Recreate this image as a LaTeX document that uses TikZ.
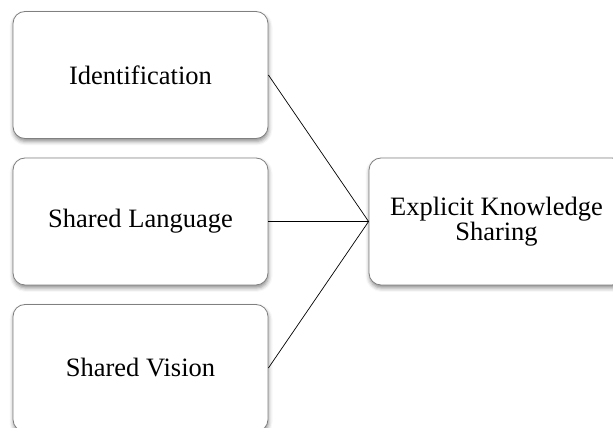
\documentclass[tikz,border=0pt]{standalone}
\usepackage{fontspec}
\setmainfont{Liberation Serif}
\usepackage{tikz}
\usetikzlibrary{positioning, shadows.blur}

\begin{document}
\begin{tikzpicture}[x=1pt, y=1pt,
        box/.style={rectangle, rounded corners=12pt, draw=black!50, line width=0.8pt,
            fill=white, minimum width=255pt, minimum height=127pt, align=center,
            font=\fontsize{26.5}{23}\selectfont,
            blur shadow={shadow xshift=0.5pt, shadow yshift=-3pt, shadow blur radius=4pt, shadow opacity=45}}]
        \useasboundingbox (0,0) rectangle (613,428);
        \clip (0,0) rectangle (613,428);

        \node[box] (1) at (140.5,353)  {Identification};
        \node[box] (2) at (140.5,206.5) {Shared Language};
        \node[box] (3) at (140.5,60)   {Shared Vision};
        \node[box] (4) at (496.5,206.5) {Explicit Knowledge\\Sharing};

        \draw[line width=0.7pt] (1.east) to (4.west);
        \draw[line width=0.7pt] (2.east) to (4.west);
        \draw[line width=0.7pt] (3.east) to (4.west);
      \end{tikzpicture}
\end{document}
